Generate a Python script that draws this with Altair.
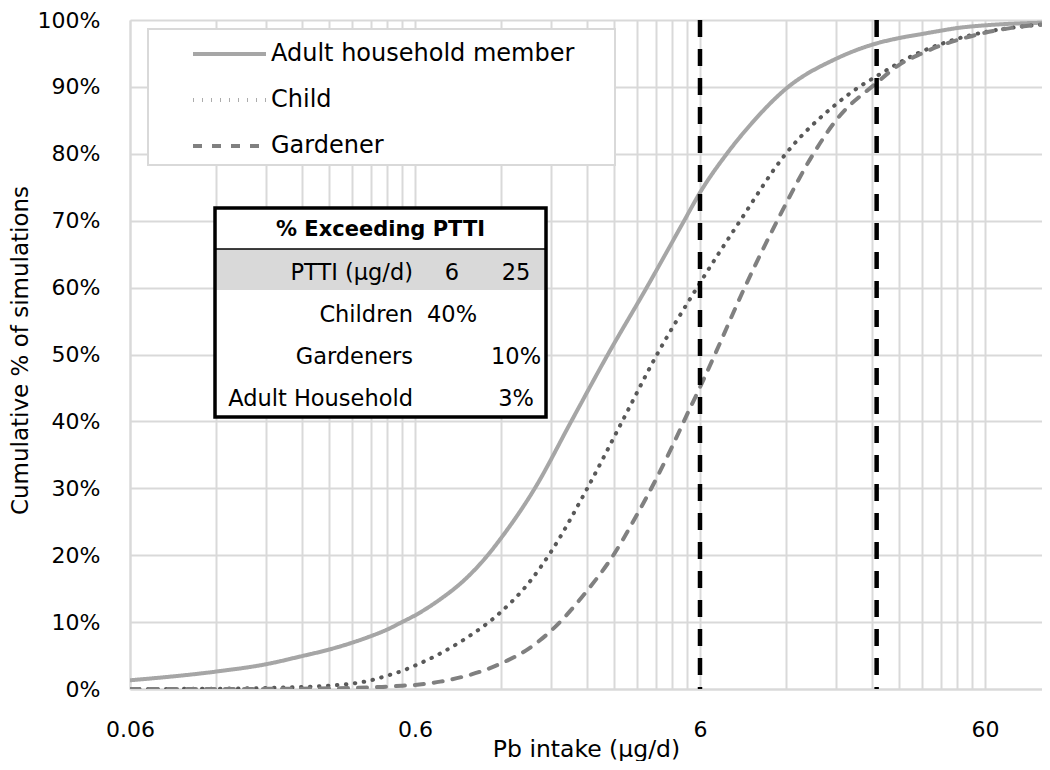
import altair as alt
import pandas as pd

# ---------------- data ----------------
adult_x = [0.06, 0.12, 0.18, 0.24, 0.3, 0.36, 0.42, 0.48, 0.54, 0.6,
           0.735, 0.9, 1.08, 1.2, 1.58, 2.12, 2.85, 3.9, 5.28, 6,
           7.45, 9, 12, 18, 25, 30, 36, 42, 48, 60, 80, 100]
adult_y = [1.3, 2.6, 3.7, 4.9, 5.9, 6.9, 7.9, 8.9, 10.0, 11.0,
           13.4, 16.4, 20, 22.5, 30, 40, 50, 60, 70, 74.2,
           80, 84.3, 89.7, 94.2, 96.5, 97.3, 97.9, 98.4, 98.8, 99.2, 99.5, 99.6]

child_x = [0.06, 0.12, 0.18, 0.24, 0.3, 0.36, 0.42, 0.48, 0.54, 0.6,
           0.75, 0.9, 1.2, 1.5, 1.8, 2.4, 3.2, 4.24, 5.86, 8.3,
           12, 18, 21.7, 25, 30, 36, 42, 48, 60, 80, 100]
child_y = [0.0, 0.05, 0.15, 0.3, 0.5, 0.8, 1.3, 2.0, 2.7, 3.5,
           5.5, 7.5, 11.5, 15.8, 20.5, 29.8, 40, 50, 60, 70,
           80, 87.4, 90, 91.6, 93.6, 95.3, 96.4, 97.2, 98.2, 99.0, 99.4]

gardener_x = [0.06, 0.12, 0.18, 0.24, 0.3, 0.36, 0.42, 0.48, 0.54, 0.6,
              0.735, 1.2, 1.5, 1.8, 2.4, 3, 3.6, 4.2, 4.8, 5.4,
              6, 6.8, 8.5, 11.2, 15, 18, 25, 30, 36, 42,
              48, 60, 80, 100]
gardener_y = [0.0, 0.0, 0.02, 0.05, 0.1, 0.15, 0.25, 0.35, 0.5, 0.6,
              1.1, 3.8, 6.0, 8.7, 14.6, 20.2, 26.0, 31.3, 36.3, 41.0,
              45.1, 50.2, 59.5, 70, 80, 85.0, 90.6, 93.3, 95.0, 96.2,
              97.0, 98.1, 99.0, 99.4]

series_names = ["Adult household member", "Child", "Gardener"]
series_colors = ["#a6a6a6", "#595959", "#808080"]
series_dashes = [[1, 0], [0.5, 8.5], [9, 10]]

ptti = [6, 25]

x_grid_values = [0.06, 0.12, 0.18, 0.24, 0.3, 0.36, 0.42, 0.48, 0.54,
                 0.6, 1.2, 1.8, 2.4, 3, 3.6, 4.2, 4.8, 5.4,
                 6, 12, 18, 24, 30, 36, 42, 48, 54, 60]
x_label_values = [0.06, 0.6, 6, 60]
y_values = [0, 10, 20, 30, 40, 50, 60, 70, 80, 90, 100]

table_title = "% Exceeding PTTI"
table_rows = ["PTTI (µg/d)", "Children", "Gardeners", "Adult Household"]
table_col_6 = ["6", "40%", "", ""]
table_col_25 = ["25", "", "10%", "3%"]

FONT = "DejaVu Sans"

# ---------------- long table ----------------
records = []
for name, xs, ys in zip(series_names, [adult_x, child_x, gardener_x], [adult_y, child_y, gardener_y]):
    for xv, yv in zip(xs, ys):
        records.append({"intake": xv, "pct": yv, "series": name})
df = pd.DataFrame(records)

label_list = ", ".join(str(v) for v in x_label_values)
x_axis = alt.Axis(
    values=x_grid_values,
    labelExpr=f"indexof([{label_list}], datum.value) >= 0 ? datum.value + '' : ''",
    title="Pb intake (µg/d)",
    grid=True, ticks=False, tickSize=0,
    labelFlush=False, labelOverlap=False,
    labelPadding=30, titleY=67, titleBaseline="alphabetic", titleFontSize=23.5,
)
y_axis = alt.Axis(
    values=y_values,
    labelExpr="datum.value + '%'",
    title="Cumulative % of simulations",
    grid=True, ticks=False, tickSize=0,
    labelPadding=30, titleX=-110, titleY=330, titleBaseline="middle",
    titleAngle=270, titleFontSize=23,
)
x_scale = alt.Scale(type="log", domain=[0.06, 95.1], nice=False)
y_scale = alt.Scale(domain=[0, 100], nice=False)

legend = alt.Legend(
    title=None, orient="none", legendX=61, legendY=22,
    symbolType="stroke", symbolSize=5329, symbolStrokeWidth=4,
    clipHeight=24, rowPadding=22, padding=0, symbolOffset=0,
    labelOffset=3, labelFont=FONT, labelFontSize=24, labelColor="black",
    labelLimit=600,
)

one = pd.DataFrame({"k": [0]})

# legend frame (drawn as a plot mark so its size matches the reference)
legend_box = alt.Chart(one).mark_rect(fill="white", stroke="#d9d9d9", strokeWidth=2).encode(
    x=alt.value(18), x2=alt.value(485), y=alt.value(9), y2=alt.value(145))

lines = alt.Chart(df).mark_line(
    interpolate="monotone", strokeWidth=4, strokeCap="round", clip=True
).encode(
    x=alt.X("intake:Q", scale=x_scale, axis=x_axis),
    y=alt.Y("pct:Q", scale=y_scale, axis=y_axis),
    color=alt.Color("series:N", scale=alt.Scale(domain=series_names, range=series_colors), legend=legend),
    strokeDash=alt.StrokeDash("series:N", scale=alt.Scale(domain=series_names, range=series_dashes), legend=legend),
)

rules = alt.Chart(pd.DataFrame({"intake": ptti})).mark_rule(
    color="black", strokeWidth=4.5, strokeDash=[17, 12]
).encode(x=alt.X("intake:Q", scale=x_scale, axis=x_axis))

# ---------------- PTTI table (annotation) ----------------
TX0, TX1, TY0, TY1 = 85, 416, 188, 397
table_layers = [
    alt.Chart(one).mark_rect(fill="white").encode(
        x=alt.value(TX0), x2=alt.value(TX1), y=alt.value(TY0), y2=alt.value(TY1)),
    alt.Chart(one).mark_rect(fill="#d9d9d9").encode(
        x=alt.value(TX0), x2=alt.value(TX1), y=alt.value(229), y2=alt.value(270)),
    alt.Chart(one).mark_rule(color="black", strokeWidth=1.5).encode(
        x=alt.value(TX0), x2=alt.value(TX1), y=alt.value(229)),
    alt.Chart(one).mark_rect(filled=False, stroke="black", strokeWidth=3.5).encode(
        x=alt.value(TX0), x2=alt.value(TX1), y=alt.value(TY0), y2=alt.value(TY1)),
    alt.Chart(one).mark_text(font=FONT, fontSize=21, fontWeight="bold", color="black",
                             align="center", baseline="middle").encode(
        x=alt.value((TX0 + TX1) / 2), y=alt.value(210), text=alt.value(table_title)),
]
row_y = [253, 295, 337, 379]
for i, label in enumerate(table_rows):
    table_layers.append(alt.Chart(one).mark_text(font=FONT, fontSize=22.5, color="black",
                                                 align="right", baseline="middle").encode(
        x=alt.value(283), y=alt.value(row_y[i]), text=alt.value(label)))
    if table_col_6[i]:
        table_layers.append(alt.Chart(one).mark_text(font=FONT, fontSize=22.5, color="black",
                                                     align="center", baseline="middle").encode(
            x=alt.value(322), y=alt.value(row_y[i]), text=alt.value(table_col_6[i])))
    if table_col_25[i]:
        table_layers.append(alt.Chart(one).mark_text(font=FONT, fontSize=22.5, color="black",
                                                     align="center", baseline="middle").encode(
            x=alt.value(386), y=alt.value(row_y[i]), text=alt.value(table_col_25[i])))

chart = alt.layer(lines, rules, legend_box, *table_layers).properties(
    width=912, height=669,
    autosize=alt.AutoSizeParams(type="none"),
    padding={"left": 122, "top": 12, "right": 0, "bottom": 72},
).configure_view(stroke=None).configure_axis(
    domainColor="#d9d9d9", domainWidth=2, gridColor="#d9d9d9", gridWidth=2,
    labelFont=FONT, labelFontSize=22, labelColor="black",
    titleFont=FONT, titleFontWeight="normal", titleColor="black",
)

chart.save("out.html", embed_options={"renderer": "svg", "actions": False})
